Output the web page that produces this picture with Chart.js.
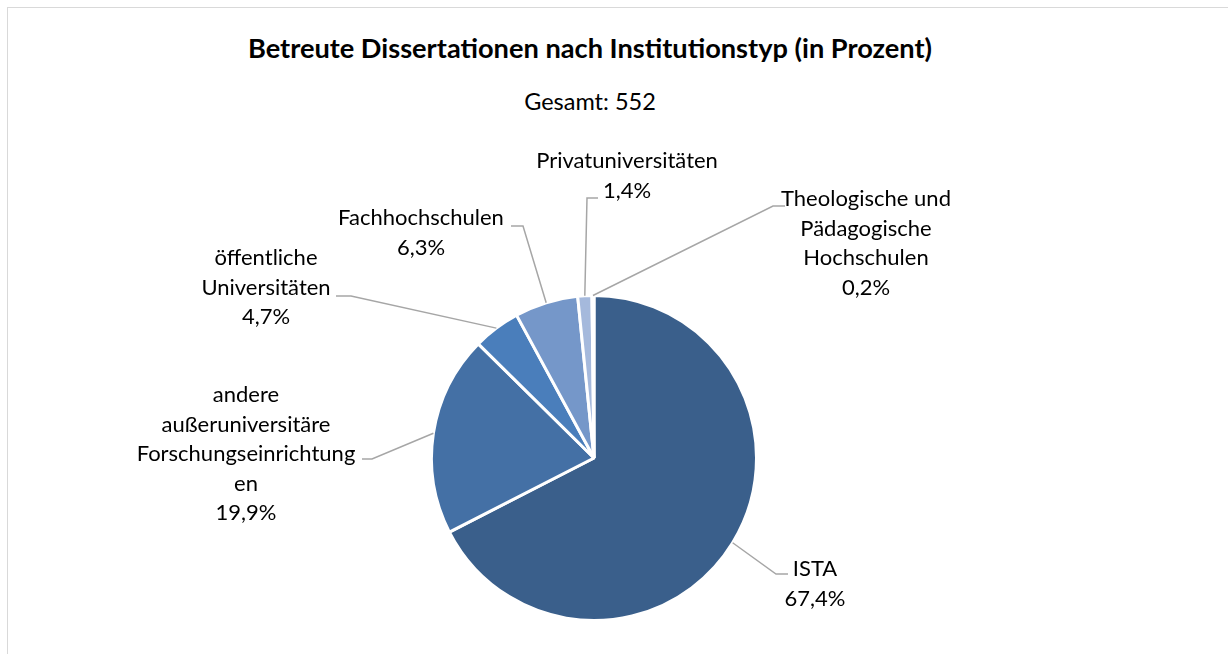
<!DOCTYPE html>
<html lang="de">
<head>
<meta charset="utf-8">
<title>Betreute Dissertationen nach Institutionstyp</title>
<script src="https://cdn.jsdelivr.net/npm/chart.js@4/dist/chart.umd.min.js"></script>
<style>
    html, body { margin: 0; padding: 0; background: #fff; }
    body { width: 1228px; height: 654px; position: relative; overflow: hidden; font-family: Lato, "Noto Sans", sans-serif; }
    .frame { position: absolute; left: 7px; top: 7px; width: 1400px; height: 800px; border: 1.5px solid #d9d9d9; }
    .chart-title { position: absolute; left: 0; width: 1180px; text-align: center; color: #000; white-space: nowrap; }
    #title { top: 31px; font-size: 27.2px; font-weight: bold; }
    #subtitle { top: 87px; font-size: 23.5px; }
    canvas { position: absolute; left: 0; top: 0; }
</style>
</head>
<body>
<div class="frame"></div>
<div class="chart-title" id="title">Betreute Dissertationen nach Institutionstyp (in Prozent)</div>
<div class="chart-title" id="subtitle">Gesamt: 552</div>
<canvas id="pieChart" width="1228" height="654"></canvas>
<script>
// Daten (Prozent)
const categories = ['ISTA', 'andere außeruniversitäre Forschungseinrichtungen', 'öffentliche Universitäten',
    'Fachhochschulen', 'Privatuniversitäten', 'Theologische und Pädagogische Hochschulen'];
const shares = [67.4, 19.9, 4.7, 6.3, 1.4, 0.2];
const sliceColors = ['#3a5f8b', '#4470a5', '#4a7ebb', '#7597c9', '#a5b9dc', '#c9d5ea'];

// Zeilenumbrüche wie im Original
const labelLines = [
    ['ISTA'],
    ['andere', 'außeruniversitäre', 'Forschungseinrichtung', 'en'],
    ['öffentliche', 'Universitäten'],
    ['Fachhochschulen'],
    ['Privatuniversitäten'],
    ['Theologische und', 'Pädagogische', 'Hochschulen']
];

// Lage der Beschriftungen relativ zur Kreismitte: Knick, Linienende, Textmitte
const labelLayout = [
    { elbow: [182, 116], end: [194, 116], text: [221, 111] },
    { elbow: [-222, 1], end: [-232, 1], text: [-348, -63] },
    { elbow: [-243, -162], end: [-258, -162], text: [-328, -200] },
    { elbow: [-71, -232], end: [-83, -232], text: [-173, -240] },
    { elbow: [-7, -260], end: [4, -260], text: [33, -297] },
    { elbow: [179, -252], end: [191, -252], text: [272, -259] }
];

const fmt = v => v.toFixed(1).replace('.', ',') + '%';

const leaderLabels = {
    id: 'leaderLabels',
    afterDatasetsDraw(chart) {
        const ctx = chart.ctx;
        const arcs = chart.getDatasetMeta(0).data;
        ctx.save();
        arcs.forEach((arc, i) => {
            const lay = labelLayout[i];
            const cx = arc.x, cy = arc.y;
            const mid = (arc.startAngle + arc.endAngle) / 2;
            const r = arc.outerRadius;
            ctx.beginPath();
            ctx.moveTo(cx + Math.cos(mid) * r, cy + Math.sin(mid) * r);
            ctx.lineTo(cx + lay.elbow[0], cy + lay.elbow[1]);
            ctx.lineTo(cx + lay.end[0], cy + lay.end[1]);
            ctx.strokeStyle = '#a6a6a6';
            ctx.lineWidth = 1.5;
            ctx.stroke();

            const lines = labelLines[i].concat([fmt(shares[i])]);
            ctx.fillStyle = '#000';
            ctx.font = '22px Lato, "Noto Sans", sans-serif';
            ctx.textAlign = 'center';
            ctx.textBaseline = 'middle';
            lines.forEach((t, k) => {
                ctx.fillText(t, cx + lay.text[0], cy + lay.text[1] + k * 29.5);
            });
        });
        ctx.restore();
    }
};

new Chart(document.getElementById('pieChart').getContext('2d'), {
    type: 'pie',
    data: {
        labels: categories,
        datasets: [{
            data: shares,
            backgroundColor: sliceColors,
            borderColor: '#ffffff',
            borderWidth: 3
        }]
    },
    options: {
        responsive: false,
        animation: false,
        layout: { padding: { left: 430, right: 470, top: 294, bottom: 32 } },
        plugins: {
            legend: { display: false },
            tooltip: { enabled: false }
        }
    },
    plugins: [leaderLabels]
});
</script>
</body>
</html>
